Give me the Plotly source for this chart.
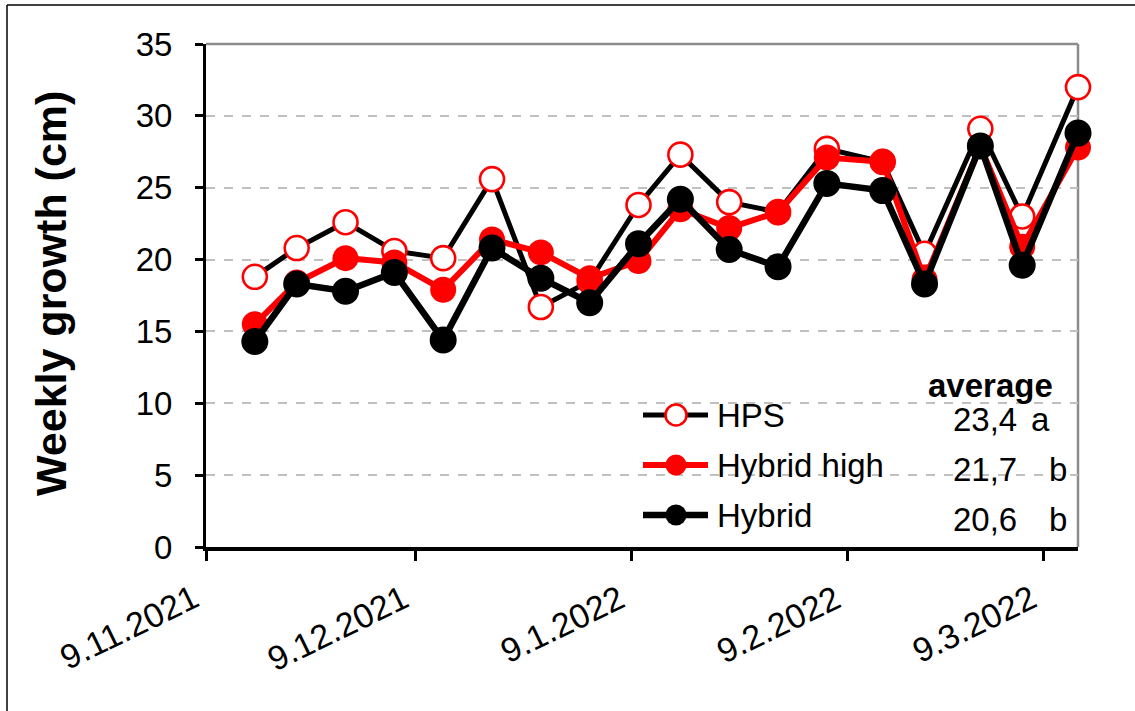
import numpy as np
import plotly.graph_objects as go

# Measurement dates and weekly growth (cm) per lighting treatment
dates = [
    "2021-11-16", "2021-11-22", "2021-11-29", "2021-12-06", "2021-12-13",
    "2021-12-20", "2021-12-27", "2022-01-03", "2022-01-10", "2022-01-16",
    "2022-01-23", "2022-01-30", "2022-02-06", "2022-02-14", "2022-02-20",
    "2022-02-28", "2022-03-06", "2022-03-14",
]
hps = [18.8, 20.8, 22.6, 20.6, 20.1, 25.6, 16.7, 18.5, 23.8, 27.3,
       24.0, 23.3, 27.7, 26.8, 20.4, 29.1, 23.0, 32.0]
hybrid_high = [15.5, 18.4, 20.1, 19.8, 17.9, 21.4, 20.5, 18.7, 19.9, 23.5,
               22.2, 23.3, 27.1, 26.8, 18.6, 27.9, 20.9, 27.8]
hybrid = [14.3, 18.3, 17.8, 19.1, 14.4, 20.8, 18.7, 17.0, 21.1, 24.2,
          20.7, 19.5, 25.3, 24.8, 18.3, 27.9, 19.6, 28.8]

series_names = ["HPS", "Hybrid high", "Hybrid"]
significance = ["a", "b", "b"]

tick_dates = ["2021-11-09", "2021-12-09", "2022-01-09", "2022-02-09", "2022-03-09"]
tick_labels = ["9.11.2021", "9.12.2021", "9.1.2022", "9.2.2022", "9.3.2022"]
x_range = ["2021-11-09", "2022-03-14"]

# ---- styling ----
W, H = 1135, 711
L, R, T, B = 206, 1078, 44, 547          # plot area in pixels
FONT = "Liberation Sans, Arial, sans-serif"
FS = 33


def px_x(px):
    return (px - L) / (R - L)


def px_y(py):
    return (B - py) / (B - T)


styles = [
    dict(line=dict(color="black", width=5),
         marker=dict(size=24, color="white", line=dict(color="red", width=2.6))),
    dict(line=dict(color="red", width=6),
         marker=dict(size=26, color="red", line=dict(width=0))),
    dict(line=dict(color="black", width=6.5),
         marker=dict(size=27, color="black", line=dict(width=0))),
]

fig = go.Figure()
for name, values, st in zip(series_names, [hps, hybrid_high, hybrid], styles):
    fig.add_trace(go.Scatter(
        x=dates, y=values, name=name, mode="lines+markers",
        line=st["line"], marker=dict(symbol="circle", **st["marker"]),
        cliponaxis=False, showlegend=False,
    ))

shapes = []
annotations = []

# plot-area border (top and right), grey
shapes.append(dict(type="line", xref="paper", yref="paper", x0=0, x1=1, y0=1, y1=1,
                   line=dict(color="#8C8C8C", width=2.5), layer="between"))
shapes.append(dict(type="line", xref="paper", yref="paper", x0=1, x1=1, y0=0, y1=1,
                   line=dict(color="#8C8C8C", width=2.5), layer="between"))

# outer chart frame
shapes.append(dict(type="line", xref="paper", yref="paper",
                   x0=px_x(7), x1=px_x(7), y0=px_y(5), y1=px_y(760),
                   line=dict(color="black", width=1.5)))
shapes.append(dict(type="line", xref="paper", yref="paper",
                   x0=px_x(7), x1=px_x(1180), y0=px_y(5), y1=px_y(5),
                   line=dict(color="black", width=1.5)))

# slanted date labels under the tick marks
for tv, tl in zip(tick_dates, tick_labels):
    annotations.append(dict(xref="x", yref="paper", x=tv, y=px_y(575),
                            xanchor="right", yanchor="top", xshift=1,
                            textangle=-26, showarrow=False, text=tl,
                            font=dict(family=FONT, size=34, color="black")))

# legend with averages
leg_rows = [415, 465, 515]
leg_x0, leg_x1, leg_mx, leg_tx = 643, 708, 676, 715
for i, (name, values, st) in enumerate(zip(series_names, [hps, hybrid_high, hybrid], styles)):
    yy = px_y(leg_rows[i])
    shapes.append(dict(type="line", xref="paper", yref="paper",
                       x0=px_x(leg_x0), x1=px_x(leg_x1), y0=yy, y1=yy,
                       line=dict(color=st["line"]["color"], width=st["line"]["width"])))
    d = 21
    mk = st["marker"]
    lw = mk["line"].get("width", 0)
    shapes.append(dict(type="circle", xref="paper", yref="paper",
                       xsizemode="pixel", ysizemode="pixel",
                       xanchor=px_x(leg_mx), yanchor=yy,
                       x0=-d / 2, x1=d / 2, y0=-d / 2, y1=d / 2,
                       fillcolor=mk["color"],
                       line=dict(color=mk["line"].get("color", mk["color"]), width=lw)))
    annotations.append(dict(xref="paper", yref="paper", x=px_x(leg_tx), y=yy,
                            xanchor="left", yanchor="middle", showarrow=False,
                            text=name, font=dict(family=FONT, size=FS, color="black")))
    mean_txt = f"{np.mean(values):.1f}".replace(".", ",")
    annotations.append(dict(xref="paper", yref="paper", x=px_x(1019), y=px_y(leg_rows[i] + 4),
                            xanchor="right", yanchor="middle", showarrow=False,
                            text=mean_txt, font=dict(family=FONT, size=FS, color="black")))
    letter_x = 1029 if significance[i] == "a" else 1047
    annotations.append(dict(xref="paper", yref="paper", x=px_x(letter_x), y=px_y(leg_rows[i] + 4),
                            xanchor="left", yanchor="middle", showarrow=False,
                            text=significance[i], font=dict(family=FONT, size=FS, color="black")))

annotations.append(dict(xref="paper", yref="paper", x=px_x(990), y=px_y(385),
                        xanchor="center", yanchor="middle", showarrow=False,
                        text="<b>average</b>", font=dict(family=FONT, size=FS, color="black")))

# y-axis title
annotations.append(dict(xref="paper", yref="paper", x=px_x(51), y=px_y(294),
                        xanchor="center", yanchor="middle", showarrow=False, textangle=-90,
                        text="<b>Weekly growth (cm)</b>",
                        font=dict(family=FONT, size=43, color="black")))

fig.update_layout(
    width=W, height=H,
    margin=dict(l=L, r=W - R, t=T, b=H - B, pad=0),
    paper_bgcolor="white", plot_bgcolor="white",
    font=dict(family=FONT, size=FS, color="black"),
    shapes=shapes, annotations=annotations,
    showlegend=False,
)
fig.update_xaxes(
    type="date", range=x_range,
    tickmode="array", tickvals=tick_dates, showticklabels=False,
    showgrid=False, zeroline=False,
    showline=True, linecolor="black", linewidth=4,
    ticks="outside", ticklen=10, tickwidth=3, tickcolor="black",
)
fig.update_yaxes(
    range=[0, 35], tick0=0, dtick=5,
    tickfont=dict(family=FONT, size=FS, color="black"),
    showgrid=True, gridcolor="#C0C0C0", griddash="dash", gridwidth=1.5,
    zeroline=False,
    showline=True, linecolor="black", linewidth=3,
    ticks="outside", ticklen=8, tickwidth=3, tickcolor="black",
    ticklabelstandoff=16,
)

fig.write_html("out.html")
